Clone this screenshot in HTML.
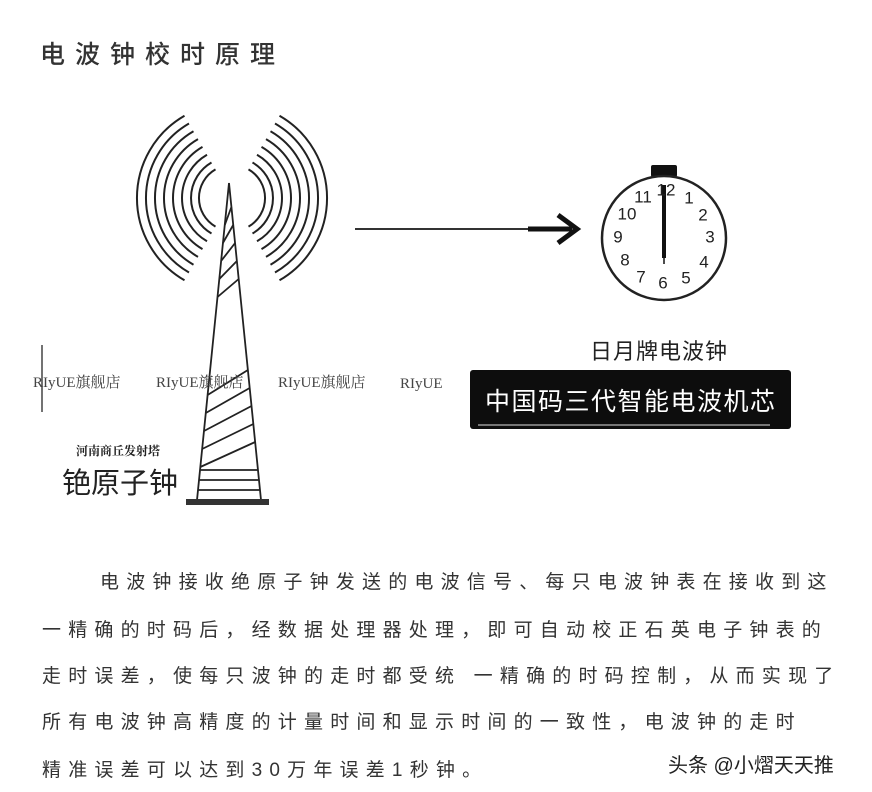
<!DOCTYPE html>
<html><head><meta charset="utf-8"><style>
body{margin:0;background:#fff;width:872px;height:792px;overflow:hidden;position:relative;font-family:"Liberation Sans","Noto Sans CJK SC",sans-serif;color:#222}
.t{position:absolute;white-space:nowrap}
.p{font-size:19px;letter-spacing:7.2px;color:#333;left:42px}
.w{position:absolute;top:372px;font-size:15px;line-height:22px;height:22px;color:#444;font-family:'Liberation Serif','Noto Serif CJK SC',serif;white-space:nowrap}
</style></head><body>
<div class="t" style="left:40px;top:35px;font-size:25px;letter-spacing:10px;color:#333;font-weight:500">电波钟校时原理</div>
<svg width="872" height="792" style="position:absolute;left:0;top:0">
<g fill="none" stroke="#222" stroke-width="2">
<path d="M184.5 115.7A95 95 0 0 0 184.5 280.3M189 123.5A86 86 0 0 0 189 272.5M193.5 131.3A77 77 0 0 0 193.5 264.7M198 139.1A68 68 0 0 0 198 256.9M202.5 146.9A59 59 0 0 0 202.5 249.1M207 154.7A50 50 0 0 0 207 241.3M211.5 162.5A41 41 0 0 0 211.5 233.5M215.5 169.4A33 33 0 0 0 215.5 226.6"/>
<path d="M279.5 115.7A95 95 0 0 1 279.5 280.3M275 123.5A86 86 0 0 1 275 272.5M270.5 131.3A77 77 0 0 1 270.5 264.7M266 139.1A68 68 0 0 1 266 256.9M261.5 146.9A59 59 0 0 1 261.5 249.1M257 154.7A50 50 0 0 1 257 241.3M252.5 162.5A41 41 0 0 1 252.5 233.5M248.5 169.4A33 33 0 0 1 248.5 226.6"/>
</g>
<g stroke="#222" stroke-width="1.8" fill="none">
<path d="M229 183L197 500M229 183L261 500"/>
<path d="M224.8 225L231.4 207M222.9 243L233.2 225M221.1 261L235.1 243M219.3 279L236.9 261M217.5 297L238.7 279"/>
<path d="M207.6 395L247.9 370M205.8 413L249.7 388M204 431L251.5 406M202.1 449L253.3 424M200.3 467L255.2 442"/>
<path d="M200 470H258M199 480H259M198 490H260"/>
</g>
<rect x="186" y="499" width="83" height="6" fill="#333"/>
<line x1="42" y1="345" x2="42" y2="412" stroke="#444" stroke-width="1.5"/>
<line x1="355" y1="229" x2="530" y2="229" stroke="#333" stroke-width="2"/>
<line x1="528" y1="229" x2="572" y2="229" stroke="#111" stroke-width="5"/>
<path d="M558 215L577 229L558 243" fill="none" stroke="#111" stroke-width="5"/>
<rect x="651" y="165" width="26" height="12" rx="2" fill="#111"/>
<circle cx="664" cy="238" r="62" fill="none" stroke="#222" stroke-width="2.5"/>
<line x1="664" y1="185" x2="664" y2="258" stroke="#111" stroke-width="4"/>
<line x1="664" y1="256" x2="664" y2="264" stroke="#111" stroke-width="1.5"/>
<g font-size="17" fill="#222" text-anchor="middle" dominant-baseline="central" font-family="Liberation Sans,sans-serif">
<text x="666" y="190">12</text><text x="689" y="198">1</text><text x="703" y="215">2</text><text x="710" y="237">3</text><text x="704" y="262">4</text><text x="686" y="278">5</text><text x="663" y="283">6</text><text x="641" y="277">7</text><text x="625" y="260">8</text><text x="618" y="237">9</text><text x="627" y="214">10</text><text x="643" y="197">11</text>
</g>
<rect x="470" y="370" width="321" height="59" rx="3" fill="#0d0d0d"/>
<line x1="478" y1="425" x2="770" y2="425" stroke="#999" stroke-width="1.5"/>
</svg>
<div class="w" style="left:33px">RIyUE旗舰店</div>
<div class="w" style="left:156px">RIyUE旗舰店</div>
<div class="w" style="left:278px">RIyUE旗舰店</div>
<div class="w" style="left:400px">RIyUE<span style="font-family:'Noto Serif CJK SC',serif;color:#fff">旗</span></div>
<div class="t" style="left:590px;top:334px;font-size:22px;color:#222;letter-spacing:1px">日月牌电波钟</div>
<div class="t" style="left:485px;top:382px;font-size:25px;color:#fff;letter-spacing:1.5px">中国码三代智能电波机芯</div>
<div class="t" style="left:76px;top:442px;font-size:12px;font-weight:bold;font-family:'Noto Serif CJK SC',serif;color:#222">河南商丘发射塔</div>
<div class="t" style="left:62px;top:460px;font-size:29px;color:#222">铯原子钟</div>
<div class="t p" style="left:100px;top:567px">电波钟接收绝原子钟发送的电波信号、每只电波钟表在接收到这</div>
<div class="t p" style="top:615px">一精确的时码后，经数据处理器处理，即可自动校正石英电子钟表的</div>
<div class="t p" style="top:661px">走时误差，使每只波钟的走时都受统 一精确的时码控制，从而实现了</div>
<div class="t p" style="top:707px">所有电波钟高精度的计量时间和显示时间的一致性，电波钟的走时</div>
<div class="t p" style="top:755px">精准误差可以达到30万年误差1秒钟。</div>
<div class="t" style="left:668px;top:749px;font-size:20px;color:#222;text-shadow:0 0 2px #fff,0 0 3px #fff">头条 @小熠天天推</div>
</body></html>
